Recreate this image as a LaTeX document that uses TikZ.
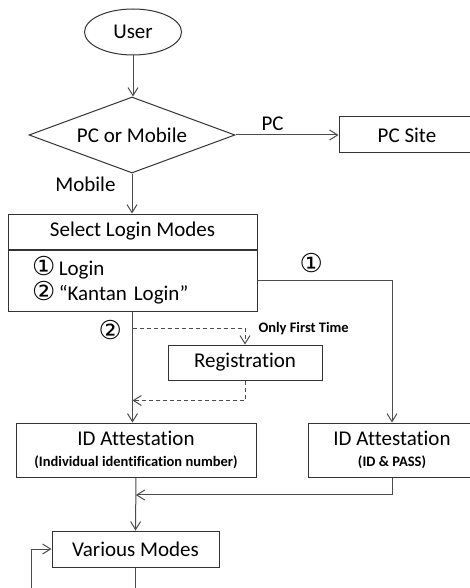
\documentclass[tikz,border=0pt]{standalone}
\usepackage{fontspec}
\setmainfont{Carlito}[Ligatures={NoCommon}]
\newfontfamily\circfont{DejaVu Sans}
\usetikzlibrary{arrows.meta,positioning}
\usetikzlibrary{calc,shapes}

\begin{document}
\begin{tikzpicture}[x=1pt,y=-1pt]
\colorlet{box edge}{black!80}
\colorlet{line edge}{black!70}
\tikzset{
     outline/.style={draw=box edge, line width=1pt, inner sep=0pt, font=\fontsize{21}{22}\selectfont},
     tag/.style={inner sep=0pt, font=\fontsize{21}{22}\selectfont},
     note/.style={inner sep=0pt, font=\fontsize{14.5}{16}\selectfont\bfseries},
     flow/.style={draw=line edge, line width=1pt, -{Straight Barb[length=8pt,width=10pt]}},
     once/.style={flow, dash pattern=on 4pt off 3pt}}

\useasboundingbox (0,0) rectangle (470,588);

% The shapes
\node (user) at (133,32) [ellipse, outline, minimum width=97pt, minimum height=46pt] {User};
\node (device) at (132,135) [diamond, outline, aspect=2.7, minimum width=206pt, minimum height=76pt] {PC or Mobile};
\node (pcsite) at (407,135) [outline, minimum width=136pt, minimum height=36pt] {PC Site};

\node (login) at (132.5,231.5) [outline, minimum width=249pt, minimum height=35pt] {Select Login Modes};
\node (options) [below=0pt of login, outline, minimum width=249pt, minimum height=61pt,
      text width=201pt, align=left, font=\fontsize{21}{25}\selectfont]
      {{\circfont\fontsize{26}{25}\selectfont ①}\,Login\\{\circfont\fontsize{26}{25}\selectfont ②}\,“Kantan Login”};
\draw [box edge, line width=2pt] (options.north west) -- (options.north east);

\node (reg) at (245,362.5) [outline, minimum width=154pt, minimum height=35pt] {Registration};

\node (idnum) at (136,450) [outline, minimum width=240pt, minimum height=54pt, align=center]
      {ID Attestation\\[-1pt]{\fontsize{14.5}{16}\selectfont\bfseries (Individual identification number)}};
\node (idpass) at (392,450) [outline, minimum width=168pt, minimum height=54pt, align=center]
      {ID Attestation\\[-1pt]{\fontsize{14.5}{16}\selectfont\bfseries (ID \& PASS)}};

\node (modes) at (135.5,549) [outline, minimum width=167pt, minimum height=36pt] {Various Modes};

% The connectors
\draw [flow] (user.south) -- (user.south |- device.north);
\draw [flow] (device.east) -- node[tag, pos=0.36, above=4pt] (pclabel) {PC} (pcsite.west);
\draw [flow] (device.south) -- node[tag, pos=0.27, left=16pt] (mobilelabel) {Mobile} (device.south |- login.north);

\draw [flow] (options.east) -| node[tag, pos=0.2, above=7pt] (onelabel) {\circfont\fontsize{26}{25}\selectfont ①} (idpass.north);
\draw [flow] (options.south) -- node[tag, pos=0.17, left=10pt] (twolabel) {\circfont\fontsize{26}{25}\selectfont ②} (options.south |- idnum.north);

\coordinate (fork) at ($(options.south)+(0,17)$);
\coordinate (join) at ($(options.south)+(0,89)$);
\draw [once] (fork) -| node[note, pos=0.5, right=13pt] (firstlabel) {Only First Time} (reg.north);
\draw [once] (reg.south) |- (join);

\coordinate (merge) at ($(idnum.south)!0.33!(modes.north)$);
\draw [flow] (idnum.south) -- (modes.north);
\draw [flow] (idpass.south) |- (merge);

\coordinate (exit) at ($(modes.south)+(0,25)$);
\coordinate (back) at (31,592);
\draw [draw=line edge, line width=1pt] (modes.south) -- (exit);
\draw [flow] (back) |- (modes.west);
\end{tikzpicture}
\end{document}
